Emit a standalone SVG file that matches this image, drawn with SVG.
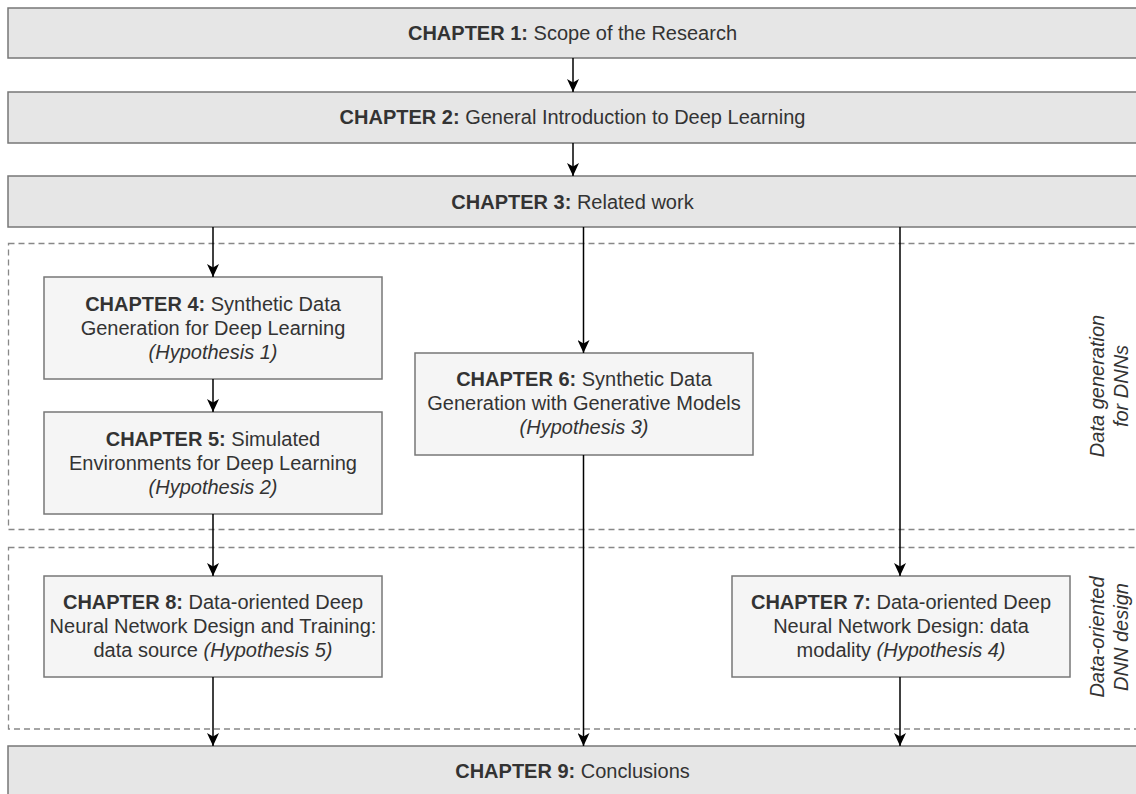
<svg xmlns="http://www.w3.org/2000/svg" width="1136" height="794" viewBox="0 0 1136 794">
<style>
text{font-family:"Liberation Sans",Arial,sans-serif;font-size:20px;fill:#333333;text-anchor:middle}
.b{font-weight:bold}
.i{font-style:italic}
.main{fill:#e6e6e6;stroke:#777777;stroke-width:1.5}
.sub{fill:#f5f5f5;stroke:#777777;stroke-width:1.5}
.grp{fill:none;stroke:#888888;stroke-width:1.3;stroke-dasharray:6 4}
.edge{fill:none;stroke:#000000;stroke-width:1.5;marker-end:url(#arr)}
</style>
<defs>
<marker id="arr" viewBox="0 0 14 12" refX="13" refY="6" markerWidth="14" markerHeight="12" markerUnits="userSpaceOnUse" orient="auto">
<path d="M13,6 L0,0 L3.5,6 L0,12 Z" fill="#000000"/>
</marker>
</defs>
<rect width="1136" height="794" fill="#ffffff"/>
<g id="groups">
<rect id="group-data-generation" class="grp" x="8.5" y="243.5" width="1140" height="286"/>
<rect id="group-dnn-design" class="grp" x="8.5" y="547.5" width="1140" height="181.5"/>
<text class="i" transform="translate(1103.5,386) rotate(-90)"><tspan x="0" y="0">Data generation</tspan><tspan x="0" dy="24">for DNNs</tspan></text>
<text class="i" transform="translate(1103.5,637) rotate(-90)"><tspan x="0" y="0">Data-oriented</tspan><tspan x="0" dy="24">DNN design</tspan></text>
</g>
<g id="ch1"><rect class="main" x="8" y="8" width="1140" height="50"/><text x="572.5" y="39.5"><tspan class="b">CHAPTER 1:</tspan> Scope of the Research</text></g>
<g id="ch2"><rect class="main" x="8" y="92" width="1140" height="51"/><text x="572.5" y="124"><tspan class="b">CHAPTER 2:</tspan> General Introduction to Deep Learning</text></g>
<g id="ch3"><rect class="main" x="8" y="176" width="1140" height="51"/><text x="572.5" y="208.5"><tspan class="b">CHAPTER 3:</tspan> Related work</text></g>
<g id="ch4"><rect class="sub" x="44" y="277" width="338" height="102"/>
<text x="213" y="311"><tspan class="b">CHAPTER 4:</tspan> Synthetic Data</text>
<text x="213" y="335">Generation for Deep Learning</text>
<text x="213" y="359" class="i">(Hypothesis 1)</text></g>
<g id="ch5"><rect class="sub" x="44" y="412" width="338" height="102"/>
<text x="213" y="446"><tspan class="b">CHAPTER 5:</tspan> Simulated</text>
<text x="213" y="470">Environments for Deep Learning</text>
<text x="213" y="494" class="i">(Hypothesis 2)</text></g>
<g id="ch6"><rect class="sub" x="415" y="353" width="338" height="102"/>
<text x="584" y="386"><tspan class="b">CHAPTER 6:</tspan> Synthetic Data</text>
<text x="584" y="410">Generation with Generative Models</text>
<text x="584" y="434" class="i">(Hypothesis 3)</text></g>
<g id="ch8"><rect class="sub" x="44" y="576" width="338" height="101"/>
<text x="213" y="608.5"><tspan class="b">CHAPTER 8:</tspan> Data-oriented Deep</text>
<text x="213" y="632.5">Neural Network Design and Training:</text>
<text x="213" y="656.5">data source <tspan class="i">(Hypothesis 5)</tspan></text></g>
<g id="ch7"><rect class="sub" x="732" y="576" width="338" height="101"/>
<text x="901" y="608.5"><tspan class="b">CHAPTER 7:</tspan> Data-oriented Deep</text>
<text x="901" y="632.5">Neural Network Design: data</text>
<text x="901" y="656.5">modality <tspan class="i">(Hypothesis 4)</tspan></text></g>
<g id="ch9"><rect class="main" x="8" y="746" width="1140" height="50"/><text x="572.5" y="777.5"><tspan class="b">CHAPTER 9:</tspan> Conclusions</text></g>
<g id="connectors">
<line class="edge" x1="573" y1="58" x2="573" y2="92"/>
<line class="edge" x1="573" y1="143" x2="573" y2="176"/>
<line class="edge" x1="213" y1="227" x2="213" y2="277"/>
<line class="edge" x1="583.5" y1="227" x2="583.5" y2="353"/>
<line class="edge" x1="900" y1="227" x2="900" y2="576"/>
<line class="edge" x1="213" y1="379" x2="213" y2="412"/>
<line class="edge" x1="213" y1="514" x2="213" y2="576"/>
<line class="edge" x1="213" y1="677" x2="213" y2="746"/>
<line class="edge" x1="583.5" y1="455" x2="583.5" y2="746"/>
<line class="edge" x1="900" y1="677" x2="900" y2="746"/>
</g>
</svg>
